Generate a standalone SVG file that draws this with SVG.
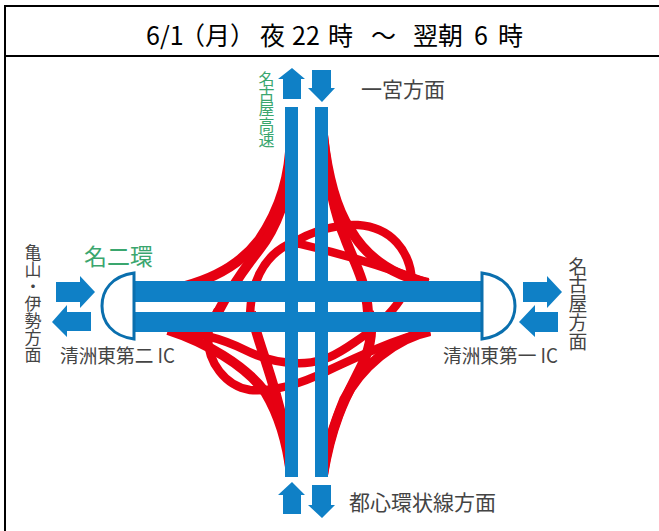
<svg xmlns="http://www.w3.org/2000/svg" width="659" height="531" viewBox="0 0 659 531">
<style>
.fr{fill:none;stroke:#000;stroke-width:2}
.b{fill:#0f80c6}
.r{fill:none;stroke:#e60012;stroke-width:8.5}
.w{stroke-width:10}
.ic{fill:#fff;stroke:#0a6fae;stroke-width:3}
text{font-family:"Noto Sans CJK JP","Liberation Sans",sans-serif}
.t{font-size:25px;fill:#000}
.g{fill:#444}
.n{fill:#3aa66e}
.v{writing-mode:vertical-rl;text-orientation:upright}
</style>
<rect width="659" height="531" fill="#fff"/>
<g id="frame"><path class="fr" d="M5 531V6H659M5 56H659"/></g>
<g id="title"><text class="t" y="45"><tspan x="146">6/1</tspan><tspan x="180">（月）</tspan> <tspan x="260">夜</tspan> <tspan x="292">22</tspan> <tspan x="328">時</tspan> <tspan x="371">～</tspan> <tspan x="413">翌朝</tspan> <tspan x="474">6</tspan> <tspan x="498">時</tspan></text></g>
<g id="connectors">
<path class="r w" d="M291 135C290 175 281 208 259 240C240 265 215 278 185 286"/>
<path class="r w" d="M291 160C287 205 273 232 259 250C248 264 232 285 217 314"/>
<path class="r" d="M250 315C251 285 262 258 287 245C292 243 296 243 300 244C330 251 380 265 428 283"/>
<path class="r" d="M293 243C310 232 335 224 358 225C390 227 411 250 412 283"/>
<path class="r w" d="M323 135C327 175 335 215 345 238C352 258 366 280 368 312"/>
<path class="r w" d="M323 135C327 170 334 205 350 229C365 255 390 275 428 283"/>
<path class="r" d="M400 300C388 318 370 332 355 342C335 356 322 362 305 363C285 364 265 360 245 350C225 340 200 332 168 330"/>
<path class="r" d="M430 331C395 339 355 358 325 372C300 384 275 392 250 390C225 386 208 362 208 338C208 328 212 322 218 310"/>
<path class="r w" d="M168 330C205 342 245 365 265 392C279 415 287 440 291 475"/>
<path class="r w" d="M251 312C256 335 268 365 276 395C282 415 288 440 291 475"/>
<path class="r w" d="M369 312C373 325 372 345 362 365C350 390 333 415 323 475"/>
<path class="r w" d="M430 331C395 338 360 368 344 400C334 425 327 445 323 475"/>
<g class="b">
<rect x="133" y="281" width="350" height="21"/>
<rect x="133" y="312" width="350" height="20"/>
<rect x="285" y="107" width="13" height="370"/>
<rect x="315" y="107" width="13" height="370"/>
</g>
</g>
<g id="ic-west"><path class="ic" d="M134 273C112 276 102 290 102 306C102 322 112 336 134 339Z"/></g>
<g id="ic-east"><path class="ic" d="M482 273C504 276 515 290 515 306C515 322 504 336 482 339Z"/></g>
<g id="arrows" class="b">
<path d="M56 282H80V276L95 292L80 308V302H56Z"/>
<path d="M91 312H67V305L52 322L67 337V331H91Z"/>
<path d="M523 282H547V276L562 292L547 308V302H523Z"/>
<path d="M558 312H535V305L519 322L535 337V332H558Z"/>
<path d="M292 68L305 79H301V99H283V79H278Z"/>
<path d="M312 70H331V88H335L322 102L308 88H312Z"/>
<path d="M292 482L305 495H301V514H283V495H278Z"/>
<path d="M312 485H331V505H335L322 518L308 505H312Z"/>
</g>
<g id="labels">
<text class="g" x="60" y="363" style="font-size:19.5px" textLength="115" lengthAdjust="spacingAndGlyphs">清洲東第二 IC</text>
<text class="g" x="443" y="363" style="font-size:19.5px" textLength="115" lengthAdjust="spacingAndGlyphs">清洲東第一 IC</text>
<text class="g" x="361" y="97" style="font-size:21px">一宮方面</text>
<text class="g" x="349" y="510" style="font-size:21px">都心環状線方面</text>
<text class="n" x="84" y="265" style="font-size:23px">名二環</text>
<text class="n v" x="266.5" y="71" style="font-size:16px;letter-spacing:-.8px">名古屋高速</text>
<text class="g v" x="33" y="244" style="font-size:17px">亀山・伊勢方面</text>
<text class="g v" x="578" y="257" style="font-size:18.8px">名古屋方面</text>
</g>
</svg>
